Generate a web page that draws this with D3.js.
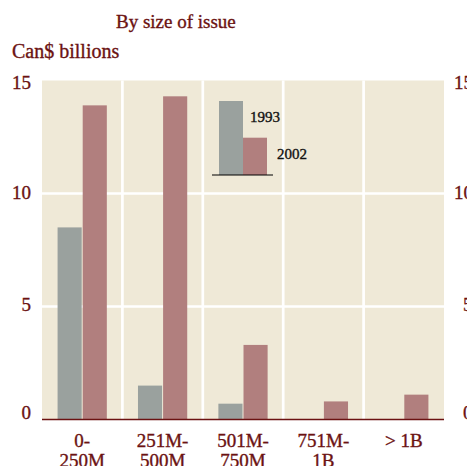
<!DOCTYPE html>
<html><head><meta charset="utf-8">
<script src="https://cdn.jsdelivr.net/npm/d3@7"></script>
<style>body{margin:0;background:#fff}svg{display:block}text{paint-order:stroke}</style>
</head><body>
<script>
const categories = [["0-","250M"],["251M-","500M"],["501M-","750M"],["751M-","1B"],["> 1B"]];
const series = ["1993","2002"];
const values1993 = [8.5, 1.5, 0.7, 0, 0];
const values2002 = [13.9, 14.3, 3.3, 0.8, 1.1];
const yTicks = [0, 5, 10, 15];

const W = 467, H = 466;
const m = {left: 42, right: 444, top: 80.5, bottom: 419.5};
const textCol = "#6b1212";
const colors = {"1993": "#9aa19e", "2002": "#b17f7e"};
const font = "'Liberation Serif', 'Times New Roman', serif";

const svg = d3.select("body").append("svg").attr("width", W).attr("height", H);

const x = d3.scaleBand().domain(d3.range(categories.length)).range([m.left, m.right]).padding(0);
const y = d3.scaleLinear().domain([0, 15]).range([m.bottom, m.top]);
const inner = d3.scaleBand().domain(series).range([0, x.bandwidth()]).paddingInner(0.04).paddingOuter(0.62);

// plot background
svg.append("rect").attr("x", m.left).attr("y", m.top).attr("width", m.right - m.left).attr("height", m.bottom - m.top).attr("fill", "#efe9d7");

// white gridlines
svg.selectAll(".hg").data([5, 10]).enter().append("line")
  .attr("x1", m.left).attr("x2", m.right).attr("y1", d => y(d)).attr("y2", d => y(d))
  .attr("stroke", "#fff").attr("stroke-width", 2.7);
svg.selectAll(".vg").data(d3.range(1, categories.length)).enter().append("line")
  .attr("x1", d => x(d)).attr("x2", d => x(d)).attr("y1", m.top).attr("y2", m.bottom)
  .attr("stroke", "#fff").attr("stroke-width", 2.7);

// bars
const data = [];
categories.forEach((c, i) => {
  data.push({i, s: "1993", v: values1993[i]});
  data.push({i, s: "2002", v: values2002[i]});
});
svg.selectAll(".bar").data(data.filter(d => d.v > 0)).enter().append("rect")
  .attr("x", d => x(d.i) + inner(d.s))
  .attr("width", inner.bandwidth())
  .attr("y", d => y(d.v))
  .attr("height", d => y(0) - y(d.v))
  .attr("fill", d => colors[d.s]);

// axis line
svg.append("line").attr("x1", m.left).attr("x2", m.right).attr("y1", y(0)).attr("y2", y(0))
  .attr("stroke", textCol).attr("stroke-width", 1.6);

function styleText(sel, size, col) {
  return sel.attr("font-family", font).attr("font-size", size).attr("fill", col)
    .attr("stroke", col).attr("stroke-width", 0.35);
}

// y labels left and right
const yOff = {0: -0.5, 5: 4.5, 10: 5, 15: 8.5};
styleText(svg.selectAll(".yl").data(yTicks).enter().append("text")
  .attr("x", 31).attr("y", d => y(d) + yOff[d]).attr("text-anchor", "end"), 19, textCol).text(d => d);
styleText(svg.selectAll(".yr").data(yTicks).enter().append("text")
  .attr("x", d => d < 10 ? 463 : 454).attr("y", d => y(d) + yOff[d]).attr("text-anchor", "start"), 19, textCol).text(d => d);

// x labels
categories.forEach((c, i) => {
  const t = styleText(svg.append("text").attr("x", x(i) + x.bandwidth() / 2).attr("y", 447)
    .attr("text-anchor", "middle"), 19, textCol);
  c.forEach((line, j) => t.append("tspan").attr("x", x(i) + x.bandwidth() / 2).attr("dy", j === 0 ? 0 : 20).text(line));
});

// titles
styleText(svg.append("text").attr("x", 116).attr("y", 28), 19, textCol).text("By size of issue");
styleText(svg.append("text").attr("x", 12).attr("y", 58), 20, textCol).text("Can$ billions");

// legend
const lg = svg.append("g");
lg.append("rect").attr("x", 219).attr("y", 101).attr("width", 24).attr("height", 74).attr("fill", colors["1993"]);
lg.append("rect").attr("x", 243).attr("y", 137.7).attr("width", 24).attr("height", 37.3).attr("fill", colors["2002"]);
lg.append("line").attr("x1", 212).attr("x2", 273).attr("y1", 175).attr("y2", 175).attr("stroke", "#000").attr("stroke-width", 1.2);
styleText(lg.append("text").attr("x", 250).attr("y", 122), 15, "#111").text(series[0]);
styleText(lg.append("text").attr("x", 277).attr("y", 159), 15, "#111").text(series[1]);
</script>
</body></html>
